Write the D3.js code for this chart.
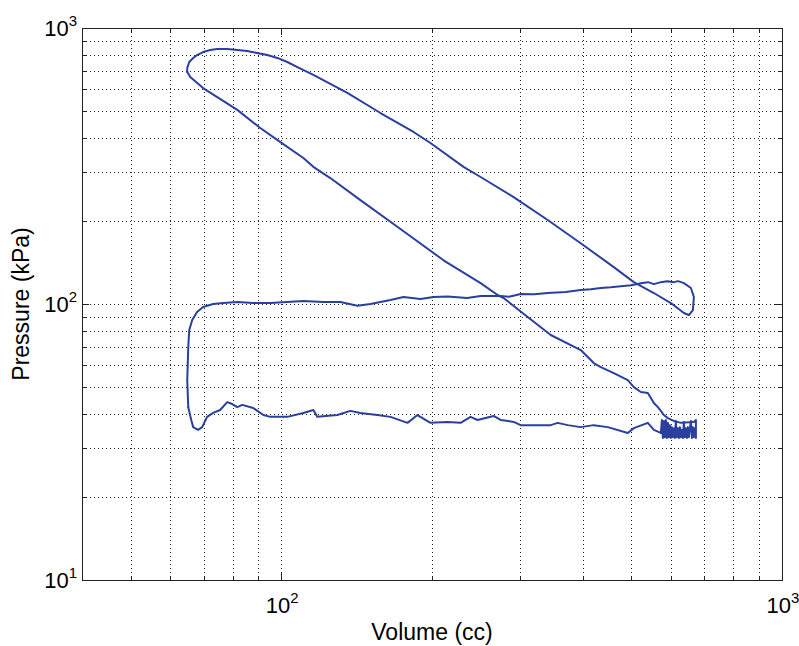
<!DOCTYPE html>
<html>
<head>
<meta charset="utf-8">
<script src="https://cdn.jsdelivr.net/npm/d3@7"></script>
<style>
  html, body { margin: 0; padding: 0; background: #fff; }
  svg { display: block; }
  text { font-family: "Liberation Sans", Arial, sans-serif; fill: #000; }
</style>
</head>
<body>
<svg id="chart" width="799" height="646"></svg>
<script>
// Engine cycle, pressure vs. volume on log-log axes.
// Each stroke is a list of [volume (cc), pressure (kPa)] readings.
const compression = [
  [666.9, 37.4], [628.2, 37.1], [608.2, 37.7], [591.6, 38.6], [580.8, 39.6],
  [572.9, 41.0], [565.0, 42.3], [554.7, 43.8], [539.6, 47.6], [522.5, 48.0],
  [505.9, 50.0], [492.1, 53.0], [461.4, 56.2], [434.6, 59.1], [420.8, 61.1],
  [396.3, 68.1], [345.2, 77.2], [310.5, 89.7], [278.0, 105.1], [270.4, 107.8],
  [250.1, 119], [210.9, 144], [173.0, 187], [143.9, 238], [125.3, 286],
  [115.9, 314], [110.7, 338], [99.6, 386], [90.8, 434], [81.7, 505],
  [69.8, 606], [65.8, 664], [64.9, 693]
];

const combustionExpansion = [
  [64.9, 693], [64.9, 716], [65.2, 734], [65.5, 753], [66.7, 779], [67.9, 798],
  [69.8, 818], [72.1, 832], [74.5, 839], [78.0, 839], [81.7, 832], [85.5, 825],
  [89.5, 812], [93.8, 798], [98.2, 779], [102.8, 753], [107.7, 722],
  [115.9, 676], [135.5, 582], [157.8, 492], [183.7, 420], [198.6, 383],
  [231.2, 314], [250.1, 288.5], [291.1, 244], [340.5, 201.5], [396.3, 166],
  [461.4, 136], [505.9, 120], [554.7, 109.6], [599.9, 100.8], [636.9, 92.8],
  [651.7, 91.2]
];

const exhaust = [
  [651.7, 91.2], [663.8, 95.1], [666.9, 106.0], [657.8, 114.3], [636.9, 119],
  [620.0, 121], [608.2, 120], [590.0, 121], [572.9, 120], [555.0, 118],
  [540.0, 120], [522.5, 119], [500.0, 117], [476.5, 116], [455.0, 115],
  [434.6, 114.3], [415.0, 113], [396.3, 112.4], [370.0, 110.5], [340.5, 109.6],
  [320.0, 108.4], [300.6, 108.7], [285.0, 106.2], [274.2, 106.9], [250.1, 106.9],
  [235.0, 105.2], [215.0, 106.5], [201.4, 106.0], [189.7, 104.3], [175.4, 106.0],
  [165.2, 103.4], [150.7, 100.0], [141.9, 98.5], [131.2, 101.7], [121.4, 101.7],
  [110.7, 102.5], [95.1, 100.8], [87.9, 100.8], [81.7, 101.7], [76.6, 100.8],
  [73.1, 100.0], [69.8, 97.5], [67.9, 93.6], [66.4, 87.5], [65.5, 80.5],
  [65.2, 69.9], [64.9, 53.0], [65.2, 42.3]
];

const intake = [
  [65.2, 42.3], [66.1, 38.0], [66.7, 35.8], [68.2, 35.0], [69.5, 35.8],
  [71.1, 39.0], [73.1, 40.3], [75.5, 41.3], [78.0, 44.1], [79.8, 43.4],
  [81.7, 42.3], [83.6, 43.1], [87.9, 42.0], [92.1, 39.6], [95.1, 39.0],
  [102.8, 39.0], [110.7, 40.3], [115.9, 41.3], [118.0, 39.0], [129.4, 39.6],
  [137.4, 41.0], [143.9, 40.3], [155.6, 39.6], [165.2, 39.0], [178.7, 37.1],
  [187.1, 39.6], [198.6, 37.1], [214.8, 37.4], [228.1, 37.1], [238.8, 39.0],
  [246.6, 38.0], [265.5, 39.3], [274.2, 38.0], [291.1, 37.4], [300.6, 36.4],
  [345.2, 36.4], [356.5, 37.1], [373.3, 36.4], [396.3, 35.8], [420.8, 36.4],
  [448.8, 35.8], [492.1, 34.1], [505.9, 35.5], [539.6, 37.1], [554.7, 35.0],
  [572.9, 34.1]
];

// Noisy readings around bottom dead centre
const bottomDeadCentre = [
  [572.9, 34.1], [575.5, 38.0], [578.2, 32.7], [580.8, 37.7], [583.5, 32.9],
  [586.2, 38.0], [588.9, 32.7], [591.6, 37.1], [594.4, 32.9], [597.1, 36.4],
  [599.9, 32.7], [602.6, 35.8], [605.4, 32.9], [608.2, 35.5], [611.0, 32.7],
  [613.8, 37.7], [616.7, 32.9], [619.5, 35.5], [622.4, 32.7], [625.3, 35.8],
  [628.2, 32.9], [631.1, 35.0], [634.0, 32.7], [636.9, 37.4], [639.8, 32.9],
  [642.8, 35.5], [645.8, 32.7], [648.7, 35.8], [651.7, 32.9], [654.7, 35.5],
  [657.8, 37.7], [660.8, 32.7], [663.8, 35.8], [666.9, 32.9], [670.0, 35.5],
  [673.1, 32.7], [673.1, 38.0], [666.9, 37.4]
];

const xMajorTicks = [100, 1000];
const xMinorTicks = [50, 60, 70, 80, 90, 200, 300, 400, 500, 600, 700, 800, 900];
const yMajorTicks = [10, 100, 1000];
const yMinorTicks = [20, 30, 40, 50, 60, 70, 80, 90, 200, 300, 400, 500, 600, 700, 800, 900];

const xTitle = "Volume (cc)";
const yTitle = "Pressure (kPa)";

const svg = d3.select("#chart");
const W = 799, H = 646;
const m = { left: 82, right: 782, top: 28, bottom: 580 };

svg.append("rect").attr("width", W).attr("height", H).attr("fill", "#fff");

const x = d3.scaleLog().domain([40, 1000]).range([m.left, m.right]);
const y = d3.scaleLog().domain([10, 1000]).range([m.bottom, m.top]);

const crisp = v => Math.round(v) + 0.5;

// Dotted grid at every major and minor decade step
const grid = svg.append("g")
  .attr("stroke", "#222")
  .attr("stroke-width", 1)
  .attr("stroke-dasharray", "1,3")
  .attr("shape-rendering", "crispEdges");

grid.selectAll("line.gx")
  .data(xMinorTicks.concat(xMajorTicks.filter(d => d < 1000)))
  .join("line")
  .attr("class", "gx")
  .attr("x1", d => crisp(x(d))).attr("x2", d => crisp(x(d)))
  .attr("y1", m.top).attr("y2", m.bottom);

grid.selectAll("line.gy")
  .data(yMinorTicks.concat(yMajorTicks.filter(d => d > 10 && d < 1000)))
  .join("line")
  .attr("class", "gy")
  .attr("y1", d => crisp(y(d))).attr("y2", d => crisp(y(d)))
  .attr("x1", m.left).attr("x2", m.right);

// Inward tick marks on all four sides
const ticks = svg.append("g")
  .attr("stroke", "#222")
  .attr("stroke-width", 1)
  .attr("shape-rendering", "crispEdges");

const xTickData = xMajorTicks.map(v => ({ v, len: 7 }))
  .concat(xMinorTicks.map(v => ({ v, len: 4 })));
const yTickData = yMajorTicks.map(v => ({ v, len: 7 }))
  .concat(yMinorTicks.map(v => ({ v, len: 4 })));

xTickData.forEach(t => {
  const px = crisp(x(t.v));
  ticks.append("line").attr("x1", px).attr("x2", px)
    .attr("y1", m.bottom).attr("y2", m.bottom - t.len);
  ticks.append("line").attr("x1", px).attr("x2", px)
    .attr("y1", m.top).attr("y2", m.top + t.len);
});
yTickData.forEach(t => {
  const py = crisp(y(t.v));
  ticks.append("line").attr("y1", py).attr("y2", py)
    .attr("x1", m.left).attr("x2", m.left + t.len);
  ticks.append("line").attr("y1", py).attr("y2", py)
    .attr("x1", m.right).attr("x2", m.right - t.len);
});

// Plot frame
svg.append("rect")
  .attr("x", crisp(m.left)).attr("y", crisp(m.top))
  .attr("width", Math.round(m.right - m.left)).attr("height", Math.round(m.bottom - m.top))
  .attr("fill", "none").attr("stroke", "#222").attr("stroke-width", 1)
  .attr("shape-rendering", "crispEdges");

// Power-of-ten tick labels
const exponent = v => Math.round(Math.log10(v));

const xl = svg.append("g").selectAll("text")
  .data(xMajorTicks).join("text")
  .attr("x", d => x(d) + 1)
  .attr("y", 613)
  .attr("text-anchor", "middle")
  .attr("font-size", 22);
xl.append("tspan").text("10");
xl.append("tspan").attr("dy", -10).attr("font-size", 15).text(d => exponent(d));

const yl = svg.append("g").selectAll("text")
  .data(yMajorTicks).join("text")
  .attr("x", 77)
  .attr("y", d => y(d) + 8)
  .attr("text-anchor", "end")
  .attr("font-size", 22);
yl.append("tspan").text("10");
yl.append("tspan").attr("dy", -10).attr("font-size", 15).text(d => exponent(d));

// Axis titles
svg.append("text")
  .attr("x", (m.left + m.right) / 2)
  .attr("y", 640)
  .attr("text-anchor", "middle")
  .attr("font-size", 23)
  .text(xTitle);

svg.append("text")
  .attr("transform", `translate(29, ${(m.top + m.bottom) / 2}) rotate(-90)`)
  .attr("text-anchor", "middle")
  .attr("font-size", 23)
  .text(yTitle);

// The cycle trace
const line = d3.line()
  .x(d => x(d[0]))
  .y(d => y(d[1]));

const strokes = [compression, combustionExpansion, exhaust, intake, bottomDeadCentre];
svg.append("g")
  .selectAll("path")
  .data(strokes)
  .join("path")
  .attr("d", line)
  .attr("fill", "none")
  .attr("stroke", "#2b3f9e")
  .attr("stroke-width", 2)
  .attr("stroke-linejoin", "round")
  .attr("stroke-linecap", "round");
</script>
</body>
</html>
